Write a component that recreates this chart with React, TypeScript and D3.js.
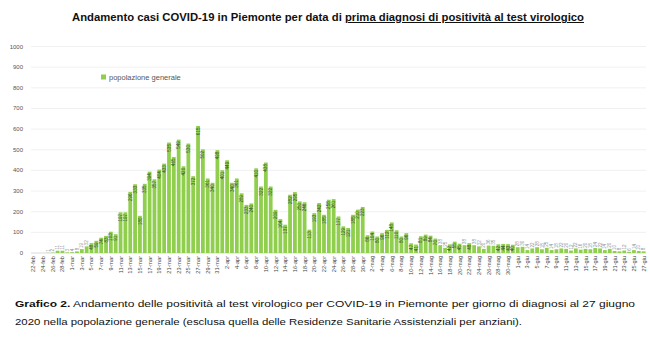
import React from "react";
import * as d3 from "d3";

const titlePlain = "Andamento casi COVID-19 in Piemonte per data di ";
const titleUnderlined = "prima diagnosi di positività al test virologico";
const seriesName = "popolazione generale";
const captionBold = "Grafico 2.";
const captionLine1 = " Andamento delle positività al test virologico per COVID-19 in Piemonte per giorno di diagnosi al 27 giugno";
const captionLine2 = "2020 nella popolazione generale (esclusa quella delle Residenze Sanitarie Assistenziali per anziani).";

const yTicks = [0, 100, 200, 300, 400, 500, 600, 700, 800, 900, 1000];

const tickLabels = [
  "22-feb", "24-feb", "26-feb", "28-feb",
  "1-mar", "3-mar", "5-mar", "7-mar", "9-mar", "11-mar", "13-mar", "15-mar", "17-mar", "19-mar", "21-mar", "23-mar", "25-mar", "27-mar", "29-mar", "31-mar",
  "2-apr", "4-apr", "6-apr", "8-apr", "10-apr", "12-apr", "14-apr", "16-apr", "18-apr", "20-apr", "22-apr", "24-apr", "26-apr", "28-apr", "30-apr",
  "2-mag", "4-mag", "6-mag", "8-mag", "10-mag", "12-mag", "14-mag", "16-mag", "18-mag", "20-mag", "22-mag", "24-mag", "26-mag", "28-mag", "30-mag",
  "1-giu", "3-giu", "5-giu", "7-giu", "9-giu", "11-giu", "13-giu", "15-giu", "17-giu", "19-giu", "21-giu", "23-giu", "25-giu", "27-giu",
];

const values = [
  0, 0, 0, 1, 2, 11, 11, 3, 4, 8, 19, 32,
  48, 59, 74, 83, 103, 91, 197, 197, 296, 333, 180, 335,
  394, 357, 404, 433, 535, 465, 549, 420, 530, 372, 615, 502,
  361, 340, 498, 401, 449, 340, 361, 289, 233, 240, 410, 322,
  438, 322, 209, 164, 137, 282, 295, 250, 246, 113, 193, 242,
  185, 258, 261, 177, 129, 121, 185, 210, 223, 86, 104, 80,
  96, 112, 148, 110, 80, 96, 47, 41, 81, 89, 84, 70,
  38, 25, 42, 55, 45, 38, 48, 38, 32, 20, 36, 35,
  42, 44, 43, 40, 28, 30, 14, 22, 28, 18, 25, 14,
  18, 22, 20, 12, 22, 16, 20, 18, 24, 22, 14, 20,
  10, 8, 12, 6, 14, 10, 8,
];

const W = 650;
const H = 357;
const plotLeft = 31;
const plotRight = 646;
const plotTop = 46.5;
const plotBottom = 253;

export default function App() {
  const x = d3
    .scaleBand<number>()
    .domain(d3.range(values.length))
    .range([plotLeft, plotRight])
    .paddingInner(0.22)
    .paddingOuter(0.1);
  const y = d3.scaleLinear().domain([0, 1000]).range([plotBottom, plotTop]);
  const bw = x.bandwidth();
  const font = "'Liberation Sans', Arial, sans-serif";

  return (
    <svg
      width={W}
      height={H}
      style={{ position: "absolute", left: 0, top: 0, background: "#fff" }}
      fontFamily={font}
    >
      <rect x={0} y={0} width={W} height={H} fill="#fff" />
      {/* title */}
      <text x={72} y={21} fontSize={10} fontWeight="bold" fill="#111" textLength={512} lengthAdjust="spacingAndGlyphs">
        <tspan>{titlePlain}</tspan>
        <tspan textDecoration="underline">{titleUnderlined}</tspan>
      </text>

      {/* gridlines and y labels */}
      {yTicks.map((t) => (
        <g key={t}>
          <line x1={plotLeft} x2={plotRight} y1={y(t)} y2={y(t)} stroke={t === 0 ? "#d0d0d0" : "#ececec"} strokeWidth={0.8} />
          <text x={23} y={y(t) + 2} fontSize={6} fill="#555" textAnchor="end">
            {t}
          </text>
        </g>
      ))}

      {/* bars */}
      {values.map((v, i) => (
        <rect key={i} x={x(i)} y={y(v)} width={bw} height={plotBottom - y(v)} fill="#8fcf4d" />
      ))}

      {/* value labels */}
      {values.map((v, i) => {
        if (v === 0) return null;
        const cx = (x(i) as number) + bw / 2 + 1.6;
        const inside = v >= 40;
        const ty = inside ? y(v) + 1.5 : y(v) - 1;
        return (
          <text
            key={"l" + i}
            transform={`translate(${cx},${ty}) rotate(-90)`}
            fontSize={4.6}
            fill={inside ? "#3b4a30" : "#8a8f9a"}
            textAnchor={inside ? "end" : "start"}
          >
            {v}
          </text>
        );
      })}

      {/* x tick labels */}
      {tickLabels.map((lab, k) => {
        const i = k * 2;
        const cx = (x(i) as number) + bw / 2 + 2;
        return (
          <text key={lab} transform={`translate(${cx},${plotBottom + 3}) rotate(-90)`} fontSize={5.6} fill="#444" textAnchor="end">
            {lab}
          </text>
        );
      })}

      {/* legend */}
      <rect x={101} y={74.5} width={5} height={5} fill="#8fcf4d" />
      <text x={109} y={79.5} fontSize={7.5} fill="#555">
        {seriesName}
      </text>

      {/* caption */}
      <text x={15} y={307} fontSize={9.2} fill="#111" textLength={620} lengthAdjust="spacingAndGlyphs">
        <tspan fontWeight="bold">{captionBold}</tspan>
        <tspan>{captionLine1}</tspan>
      </text>
      <text x={15} y={325} fontSize={9.2} fill="#111" textLength={507} lengthAdjust="spacingAndGlyphs">
        {captionLine2}
      </text>
    </svg>
  );
}
